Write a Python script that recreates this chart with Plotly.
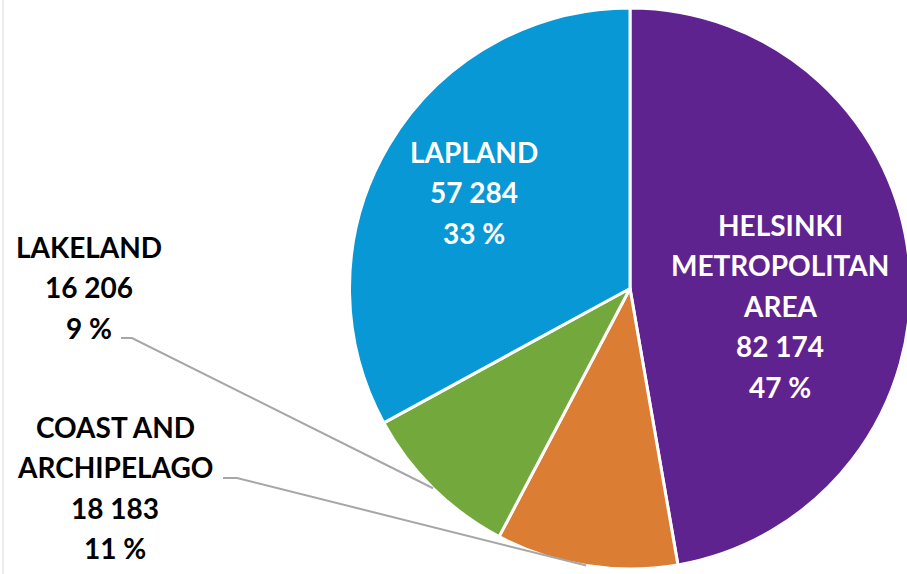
import math
import plotly.graph_objects as go

# ---- data ----
regions = ["HELSINKI METROPOLITAN AREA", "COAST AND ARCHIPELAGO", "LAKELAND", "LAPLAND"]
label_lines = [["HELSINKI", "METROPOLITAN", "AREA"], ["COAST AND", "ARCHIPELAGO"], ["LAKELAND"], ["LAPLAND"]]
values = [82174, 18183, 16206, 57284]
percent_labels = [47, 11, 9, 33]

# ---- styling / layout ----
colors = ["#5f2390", "#dc7d34", "#73a93c", "#0898d6"]
W, H = 915, 574          # slightly wider than the window: the pie is cut at the right edge
CX, CY, R = 630, 288.5, 280.5
FONT = "Lato"
FS = 28

# label block centre x and first baseline (px), text colour
label_pos = [
    dict(x=780, y0=235, color="white"),
    dict(x=115, y0=437, color="black"),
    dict(x=89, y0=257, color="black"),
    dict(x=474, y0=162, color="white"),
]
LINE_STEP = 40.5
# leader line start points (px) for outside labels: (start, elbow)
leaders = {1: [(223, 478), (237, 478)], 2: [(121, 338), (132, 338)]}

fig = go.Figure(go.Pie(
    labels=regions, values=values, sort=False, direction="clockwise", rotation=0,
    marker=dict(colors=colors, line=dict(color="white", width=3)),
    textinfo="none", showlegend=False,
    domain=dict(x=[(CX - R) / W, (CX + R) / W], y=[(H - CY - R) / H, (H - CY + R) / H]),
))

def px2paper(x, y):
    return x / W, (H - y) / H

annotations = []
for i, lines in enumerate(label_lines):
    txt = lines + [f"{values[i]:,}".replace(",", " "), f"{percent_labels[i]} %"]
    p = label_pos[i]
    for k, t in enumerate(txt):
        base = p["y0"] + k * LINE_STEP
        ax, ay = px2paper(p["x"], base - 0.36 * FS)
        annotations.append(dict(
            x=ax, y=ay, xref="paper", yref="paper", text=t, showarrow=False,
            xanchor="center", yanchor="middle",
            font=dict(family=FONT, size=FS, color=p["color"], weight="bold"),
        ))

shapes = []
total = sum(values)
cum = 0
for i, v in enumerate(values):
    mid = (cum + v / 2) / total * 2 * math.pi
    cum += v
    if i in leaders:
        ex = CX + R * math.sin(mid)
        ey = CY - R * math.cos(mid)
        pts = leaders[i] + [(ex, ey)]
        path = "M " + " L ".join(f"{px2paper(x, y)[0]:.5f},{px2paper(x, y)[1]:.5f}" for x, y in pts)
        shapes.append(dict(type="path", path=path, xref="paper", yref="paper",
                           line=dict(color="#a6a6a6", width=2)))

# thin border line at the left edge
shapes.append(dict(type="line", xref="paper", yref="paper", x0=3 / W, x1=3 / W, y0=0, y1=1,
                   line=dict(color="#d9d9d9", width=1)))

fig.update_layout(
    width=W, height=H, margin=dict(l=0, r=0, t=0, b=0),
    paper_bgcolor="white", plot_bgcolor="white",
    annotations=annotations, shapes=shapes,
)

fig.write_html(
    "out.html",
    config={"displayModeBar": False},
    post_script="document.body.style.margin='0';document.body.style.overflow='hidden';",
)
